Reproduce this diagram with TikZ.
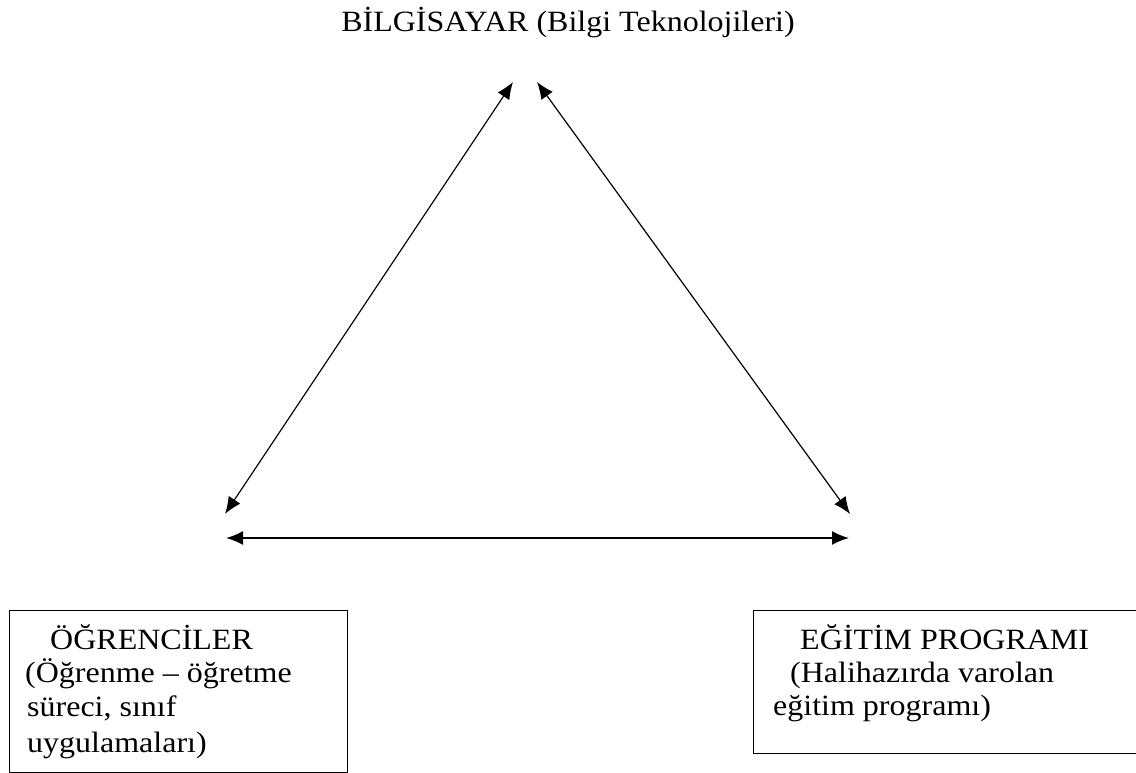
\documentclass[tikz,border=0pt]{standalone}
\usepackage{fontspec}
\setmainfont{Liberation Serif}
\usetikzlibrary{arrows.meta}
\tikzset{
  txt/.style={inner sep=0pt, anchor=base west, font=\fontsize{32}{37}\selectfont},
  link/.style={line width=1.2pt, {Latex[length=17pt,width=14pt]}-{Latex[length=17pt,width=14pt]}},
  hlink/.style={line width=1.8pt, {Latex[length=17pt,width=14pt]}-{Latex[length=17pt,width=14pt]}},
  boxframe/.style={draw, line width=1.3pt, inner sep=0pt, anchor=north west}
}
\newcommand{\sq}[1]{\scalebox{1}[0.92]{#1}}
\begin{document}
\begin{tikzpicture}[x=1pt,y=-1pt]
\useasboundingbox (0,0) rectangle (1136,773);
% title
\node[inner sep=0pt, anchor=base, font=\fontsize{32}{37}\selectfont] (title) at (568,32) {\sq{BİLGİSAYAR (Bilgi Teknolojileri)}};
% arrow end points
\coordinate (ta) at (513,82);
\coordinate (tb) at (537,82);
\coordinate (la) at (225,514);
\coordinate (rb) at (850,514);
\coordinate (hl) at (226,538);
\coordinate (hr) at (849,538);
\draw[link] (ta) -- (la);
\draw[link] (tb) -- (rb);
\draw[hlink] (hl) -- (hr);
% left box
\node[boxframe, minimum width=338pt, minimum height=162pt] (boxL) at (9,610) {};
\begin{scope}
\clip (10,611) rectangle (346,758);
\node[txt] (l1) at (50,649) {\sq{ÖĞRENCİLER}};
\node[txt] (l2) at (25,682) {\sq{(Öğrenme – öğretme}};
\node[txt] (l3) at (27,716) {\sq{süreci, sınıf}};
\node[txt] (l4) at (27,752) {\sq{uygulamaları)}};
\end{scope}
% right box
\node[boxframe, minimum width=400pt, minimum height=143pt] (boxR) at (753,610) {};
\node[txt] (r1) at (800,649) {\sq{EĞİTİM PROGRAMI}};
\node[txt] (r2) at (790,682) {\sq{(Halihazırda varolan}};
\node[txt] (r3) at (773,715) {\sq{eğitim programı)}};
\end{tikzpicture}
\end{document}
